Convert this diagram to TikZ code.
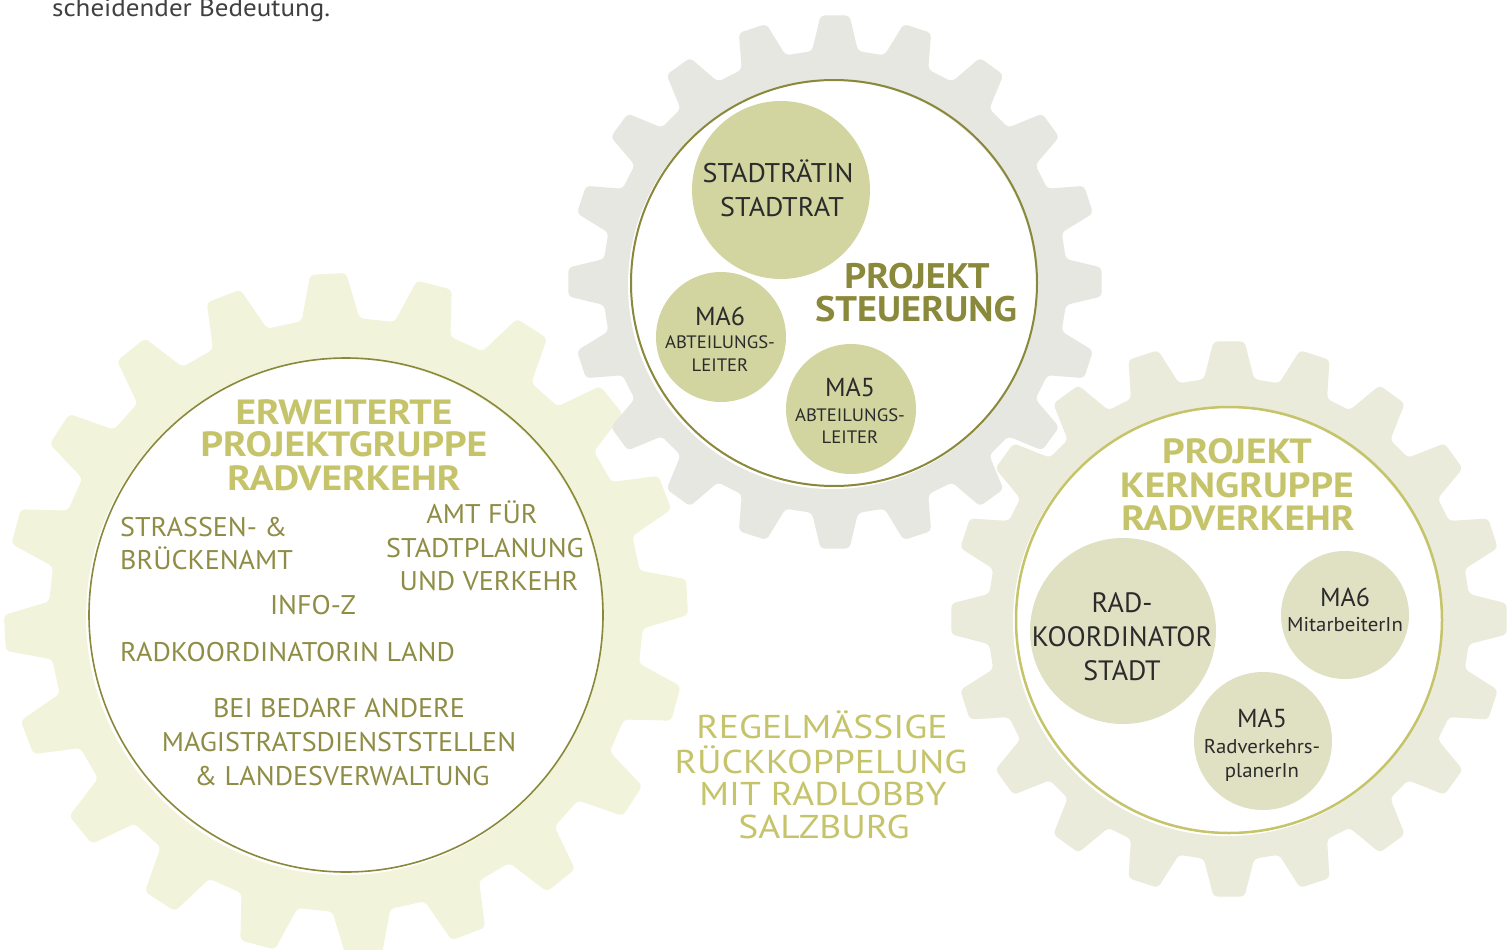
\documentclass[tikz,border=0pt]{standalone}
\usepackage{fontspec}
\setmainfont{PT Sans}
\newfontfamily\wideA[FakeStretch=1.08]{PT Sans}
\newfontfamily\wideB[FakeStretch=1.13]{PT Sans}
\newfontfamily\wideC[FakeStretch=1.14]{PT Sans}
\newfontfamily\wideD[FakeStretch=1.04]{PT Sans}
\definecolor{gearTop}{HTML}{E6E7E0}
\definecolor{gearLeft}{HTML}{F1F4DA}
\definecolor{gearRight}{HTML}{EAEBDB}
\definecolor{oliveDark}{HTML}{8A883A}
\definecolor{oliveText}{HTML}{8F8D45}
\definecolor{oliveLight}{HTML}{C6C46A}
\definecolor{discTop}{HTML}{D2D5A0}
\definecolor{discRight}{HTML}{E0E1C3}
\definecolor{inkDark}{HTML}{2B2B2B}
\newcommand{\mygear}[8]{%
  \begin{scope}[shift={(#2,#3)}]
  \fill[#1, rounded corners=4pt] ({#6+#7}:#4)
    \foreach \k in {1,...,19}{ -- ({#6+18*\k-#7}:#4) -- ({#6+18*\k-#8}:#5) -- ({#6+18*\k+#8}:#5) -- ({#6+18*\k+#7}:#4) }
    -- ({#6-#7}:#4) -- ({#6-#8}:#5) -- ({#6+#8}:#5) -- cycle;
  \end{scope}}
\newcommand{\fsz}[1]{\fontsize{#1}{#1}\selectfont}
\tikzset{
  txt/.style={anchor=base, inner sep=0pt},
  darktxt/.style={txt, text=inkDark},
  titledark/.style={txt, text=oliveDark, font=\wideA\bfseries\fsz{35.5}, text height=25pt, text depth=0pt},
  titlelight/.style={txt, text=oliveLight, font=\wideB\bfseries\fsz{35}, text height=24pt, text depth=0pt},
  lefttxt/.style={txt, text=oliveText, font=\wideD\fsz{27}},
  centertxt/.style={txt, text=oliveLight, font=\wideC\fsz{33}, text height=23pt, text depth=0pt},
  disctop/.style={circle, fill=discTop, inner sep=0pt},
  discright/.style={circle, fill=discRight, inner sep=0pt},
}
\begin{document}
\begin{tikzpicture}[x=1pt,y=-1pt]
\useasboundingbox (0,0) rectangle (1507,950);
\fill[white] (0,0) rectangle (1507,950);
% gears
\mygear{gearLeft}{346}{615}{297}{342}{-3}{5.6}{3.0}
\mygear{gearTop}{835}{282}{232}{267}{0}{5.7}{3.1}
\mygear{gearRight}{1229}{619}{241}{278}{0}{6.0}{3.2}
% inner discs
\fill[white] (344,617) circle (258);
\draw[oliveDark, line width=1.6pt] (346,615) circle (257);
\fill[white] (832,285) circle (204);
\draw[oliveDark, line width=2pt] (834,283) circle (203);
\fill[white] (1227,622) circle (214);
\draw[oliveLight, line width=2.5pt] (1229,620) circle (213);
% top text
\node[txt, anchor=base west, text=inkDark!90, font=\wideA\fsz{25}] (intro) at (52,17) {scheidender Bedeutung.};
% top gear
\node[disctop, minimum size=178pt] (stadt) at (781,190) {};
\node[disctop, minimum size=130pt] (ma6t) at (721,337) {};
\node[disctop, minimum size=130pt] (ma5t) at (851,409) {};
\node[darktxt, font=\wideD\fsz{27}] (st1) at (778,182) {STADTRÄTIN};
\node[darktxt, font=\wideD\fsz{27}] (st2) at (782,216) {STADTRAT};
\node[titledark] (ps1) at (917,288) {PROJEKT};
\node[titledark] (ps2) at (916,321) {STEUERUNG};
\node[darktxt, font=\fsz{26}] (m6a) at (720,325) {MA6};
\node[darktxt, font=\wideD\fsz{18}] (m6b) at (720,348) {ABTEILUNGS-};
\node[darktxt, font=\wideD\fsz{18}] (m6c) at (720,371) {LEITER};
\node[darktxt, font=\fsz{26}] (m5a) at (850,396) {MA5};
\node[darktxt, font=\wideD\fsz{18}] (m5b) at (850,421) {ABTEILUNGS-};
\node[darktxt, font=\wideD\fsz{18}] (m5c) at (850,443) {LEITER};
% left gear
\node[titlelight] (ep1) at (344,424) {ERWEITERTE};
\node[titlelight] (ep2) at (344,456) {PROJEKTGRUPPE};
\node[titlelight] (ep3) at (344,490) {RADVERKEHR};
\node[lefttxt, anchor=base west] (sb1) at (120,536) {STRASSEN- \&};
\node[lefttxt, anchor=base west] (sb2) at (120,569) {BRÜCKENAMT};
\node[lefttxt] (af1) at (482,523) {AMT FÜR};
\node[lefttxt] (af2) at (485,557) {STADTPLANUNG};
\node[lefttxt] (af3) at (489,590) {UND VERKEHR};
\node[lefttxt] (info) at (313,614) {INFO-Z};
\node[lefttxt, anchor=base west] (rkl) at (120,661) {RADKOORDINATORIN LAND};
\node[lefttxt] (bb1) at (339,717) {BEI BEDARF ANDERE};
\node[lefttxt] (bb2) at (339,751) {MAGISTRATSDIENSTSTELLEN};
\node[lefttxt] (bb3) at (342,785) {\& LANDESVERWALTUNG};
% right gear
\node[discright, minimum size=186pt] (radk) at (1123,631) {};
\node[discright, minimum size=128pt] (ma6r) at (1345,615) {};
\node[discright, minimum size=138pt] (ma5r) at (1263,741) {};
\node[titlelight] (pk1) at (1237,463) {PROJEKT};
\node[titlelight] (pk2) at (1237,497) {KERNGRUPPE};
\node[titlelight] (pk3) at (1238,530) {RADVERKEHR};
\node[darktxt, font=\fsz{28}] (rk1) at (1122,612) {RAD-};
\node[darktxt, font=\fsz{28}] (rk2) at (1122,646) {KOORDINATOR};
\node[darktxt, font=\fsz{28}] (rk3) at (1122,680) {STADT};
\node[darktxt, font=\fsz{26}] (r6a) at (1345,606) {MA6};
\node[darktxt, font=\wideD\fsz{20}] (r6b) at (1345,631) {MitarbeiterIn};
\node[darktxt, font=\fsz{26}] (r5a) at (1262,727) {MA5};
\node[darktxt, font=\wideD\fsz{20}] (r5b) at (1262,753) {Radverkehrs-};
\node[darktxt, font=\wideD\fsz{20}] (r5c) at (1262,777) {planerIn};
% center text
\node[centertxt] (rg1) at (822,738) {REGELMÄSSIGE};
\node[centertxt] (rg2) at (821,773) {RÜCKKOPPELUNG};
\node[centertxt] (rg3) at (823,805) {MIT RADLOBBY};
\node[centertxt] (rg4) at (824,838) {SALZBURG};
\end{tikzpicture}
\end{document}
